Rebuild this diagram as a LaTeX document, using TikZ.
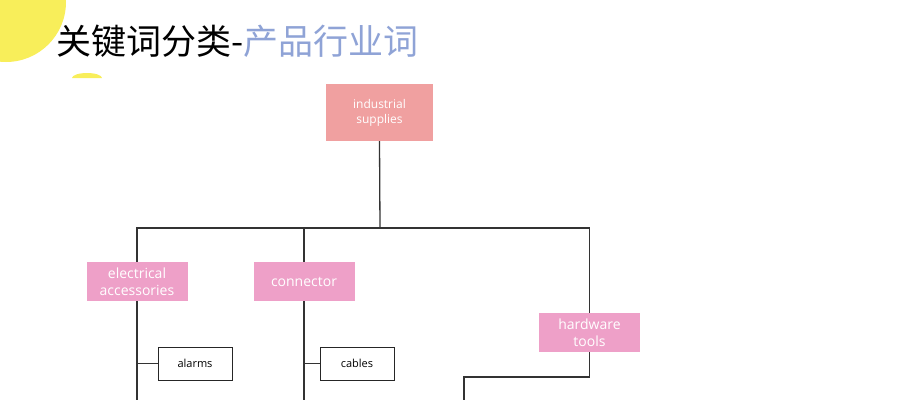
\documentclass[tikz,border=0pt]{standalone}
\usepackage{fontspec}
\setmainfont{Open Sans}
\newfontfamily\cjk{Noto Sans CJK SC}
\usetikzlibrary{positioning}
\definecolor{salmon}{HTML}{F0A0A0}
\definecolor{pinkbox}{HTML}{EEA0C8}
\definecolor{titleblue}{HTML}{8FA3D6}
\definecolor{sunny}{HTML}{F8EE5A}
\begin{document}
\begin{tikzpicture}[
    x=1pt, y=-1pt,
    catbox/.style={rectangle, fill=pinkbox, text=white, minimum width=101pt, minimum height=39pt, align=center, font=\fontsize{14}{17}\selectfont, inner sep=1pt},
    rootbox/.style={catbox, fill=salmon, minimum width=107pt, minimum height=57pt, font=\fontsize{12}{15}\selectfont},
    leafbox/.style={rectangle, draw=black!85, thick, fill=white, minimum width=74pt, minimum height=33pt, font=\fontsize{11}{13}\selectfont, inner sep=1pt},
    link/.style={draw=black!80, line width=1.3pt}
]
\useasboundingbox (0,0) rectangle (898,400);
% decoration
\fill[sunny] (6,2) circle (60);
\fill[sunny] (72,78) -- (102,78) arc (0:-180:15 and 5) -- cycle;
% title
\node[anchor=west, inner sep=0] (title) at (56,41) {\fontsize{35}{38}\selectfont\cjk 关键词分类-\textcolor{titleblue}{产品行业词}};

% nodes
\node[rootbox] (root) at (379.5,112.5) {industrial\\supplies};
\node[catbox] (elec) at (137,281.5) {electrical\\accessories};
\node[catbox] (conn) at (304,281.5) {connector};
\node[catbox] (hard) at (589.5,332.5) {hardware\\tools};
\node[leafbox] (alarms) at (195,363.5) {alarms};
\node[leafbox] (cables) at (357,363.5) {cables};
\coordinate (split) at (380,228);
\coordinate (elecdown) at (137,400);
\coordinate (conndown) at (304,400);
\coordinate (turn) at (464,377);
\coordinate (harddown) at (464,400);

% connectors
\draw[link] (root.south) -- (split);
\draw[link] (elec.north) |- (split);
\draw[link] (conn.north) |- (split);
\draw[link] (hard.north) |- (split);
\draw[link] (elec.south) -- (elecdown);
\draw[link] (conn.south) -- (conndown);
\draw[link] (elec.south |- alarms.west) -- (alarms.west);
\draw[link] (conn.south |- cables.west) -- (cables.west);
\draw[link] (hard.south) |- (turn) -- (harddown);
\end{tikzpicture}
\end{document}
